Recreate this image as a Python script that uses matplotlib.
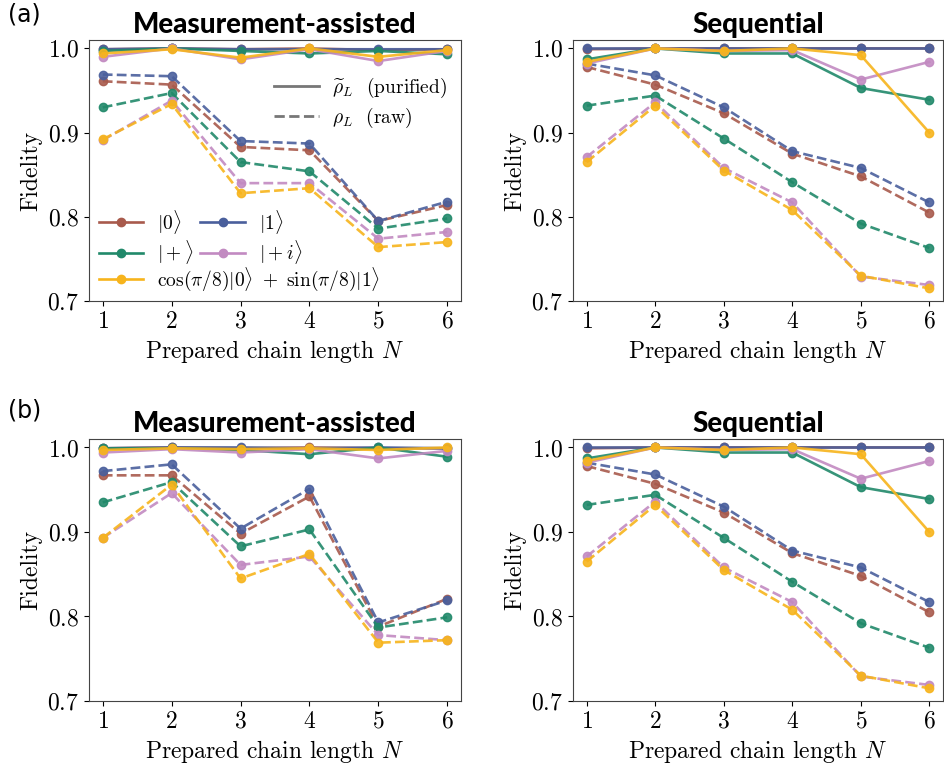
import numpy as np
import matplotlib.pyplot as plt
from matplotlib.lines import Line2D

plt.rcParams['font.family'] = 'serif'
plt.rcParams['font.serif'] = ['cmr10']
plt.rcParams['mathtext.fontset'] = 'cm'
plt.rcParams['axes.formatter.use_mathtext'] = True

N = [1, 2, 3, 4, 5, 6]
labels = [r'$|0\rangle$', r'$|1\rangle$', r'$|+\rangle$', r'$|+i\rangle$',
          r'$\cos(\pi/8)|0\rangle\ +\ \sin(\pi/8)|1\rangle$']
colors = ['#a85a4c', '#4a5f9c', '#21896a', '#c28ac1', '#f7b41c']

# order of rows: |0>, |1>, |+>, |+i>, cos
ma_a_pur = [
    [0.999, 1.000, 0.999, 1.000, 0.998, 0.999],
    [0.999, 1.000, 0.999, 0.999, 0.999, 0.999],
    [0.997, 1.000, 0.997, 0.994, 0.997, 0.993],
    [0.990, 1.000, 0.987, 0.999, 0.985, 0.997],
    [0.994, 0.999, 0.989, 1.000, 0.990, 0.998],
]
ma_a_raw = [
    [0.961, 0.957, 0.883, 0.879, 0.795, 0.814],
    [0.969, 0.967, 0.890, 0.887, 0.795, 0.818],
    [0.930, 0.947, 0.865, 0.854, 0.786, 0.798],
    [0.891, 0.938, 0.840, 0.840, 0.774, 0.782],
    [0.892, 0.934, 0.828, 0.834, 0.764, 0.770],
]
ma_b_pur = [
    [0.999, 1.000, 0.999, 1.000, 0.999, 0.999],
    [0.999, 1.000, 1.000, 0.999, 1.000, 0.999],
    [0.999, 0.999, 0.997, 0.992, 1.000, 0.989],
    [0.994, 0.998, 0.994, 0.998, 0.987, 0.996],
    [0.997, 0.999, 0.998, 0.999, 0.997, 1.000],
]
ma_b_raw = [
    [0.967, 0.967, 0.898, 0.942, 0.788, 0.821],
    [0.972, 0.980, 0.904, 0.951, 0.793, 0.819],
    [0.935, 0.959, 0.883, 0.903, 0.787, 0.799],
    [0.893, 0.946, 0.861, 0.871, 0.778, 0.772],
    [0.893, 0.956, 0.845, 0.874, 0.769, 0.772],
]
seq_pur = [
    [0.999, 1.000, 1.000, 1.000, 1.000, 1.000],
    [1.000, 1.000, 1.000, 1.000, 1.000, 1.000],
    [0.987, 1.000, 0.994, 0.994, 0.953, 0.939],
    [0.982, 1.000, 0.997, 0.998, 0.963, 0.984],
    [0.984, 1.000, 0.997, 1.000, 0.992, 0.900],
]
seq_raw = [
    [0.978, 0.957, 0.923, 0.875, 0.848, 0.805],
    [0.982, 0.968, 0.930, 0.878, 0.858, 0.817],
    [0.932, 0.944, 0.893, 0.841, 0.792, 0.763],
    [0.871, 0.936, 0.858, 0.817, 0.729, 0.719],
    [0.865, 0.932, 0.855, 0.808, 0.730, 0.715],
]

fig = plt.figure(figsize=(9.45, 7.7), dpi=100)
axA1 = fig.add_axes([89/945, 1-301/770, 372/945, 261/770])
axA2 = fig.add_axes([573/945, 1-301/770, 370/945, 261/770])
axB1 = fig.add_axes([89/945, 1-701/770, 372/945, 262/770])
axB2 = fig.add_axes([573/945, 1-701/770, 370/945, 262/770])

panels = [(axA1, ma_a_pur, ma_a_raw, 'Measurement-assisted'),
          (axA2, seq_pur, seq_raw, 'Sequential'),
          (axB1, ma_b_pur, ma_b_raw, 'Measurement-assisted'),
          (axB2, seq_pur, seq_raw, 'Sequential')]

for ax, pur, raw, title in panels:
    for i in range(len(labels)):
        ax.plot(N, pur[i], '-', color=colors[i], lw=1.9, marker='o', ms=6, alpha=0.9)
        ax.plot(N, raw[i], '--', color=colors[i], lw=1.9, marker='o', ms=6, alpha=0.9)
    ax.set_xlim(0.8, 6.2)
    ax.set_ylim(0.7, 1.01)
    ax.set_xticks(N)
    ax.set_yticks([0.7, 0.8, 0.9, 1.0])
    ax.tick_params(labelsize=17)
    ax.set_xlabel(r'Prepared chain length $N$', fontsize=17)
    ax.set_ylabel('Fidelity', fontsize=17)
    ax.set_title(title, fontsize=20, fontweight='black', family='Lato', pad=5)
    for s in ax.spines.values():
        s.set_color('#444444')

# legends
h = [Line2D([], [], color=colors[i], lw=1.9, marker='o', ms=6) for i in range(5)]
leg1 = axA1.legend([h[0], h[2], h[1], h[3]], [labels[0], labels[2], labels[1], labels[3]],
                   ncol=2, frameon=False, fontsize=14, loc='lower left',
                   bbox_to_anchor=(0.0, 0.095), handlelength=2.3, handletextpad=0.7,
                   columnspacing=0.35, labelspacing=0.15, borderpad=0.0)
axA1.add_artist(leg1)
leg2 = axA1.legend([h[4]], [labels[4]], frameon=False, fontsize=14, loc='lower left',
                   bbox_to_anchor=(0.0, -0.005), handlelength=2.3, handletextpad=0.7,
                   borderpad=0.0)
axA1.add_artist(leg2)
ls_h = [Line2D([], [], color='#777777', lw=2, ls='-'),
        Line2D([], [], color='#777777', lw=2, ls='--')]
axA1.legend(ls_h, [r'$\widetilde{\rho}_L$  (purified)', r'$\rho_L$  (raw)'],
            frameon=False, fontsize=14, loc='upper right', bbox_to_anchor=(1.01, 0.93),
            handlelength=2.3, handletextpad=0.7, labelspacing=0.3)

fig.text(0.008, 0.997, '(a)', fontsize=17, family='DejaVu Sans', va='top')
fig.text(0.008, 0.483, '(b)', fontsize=17, family='DejaVu Sans', va='top')

fig.savefig('out.png', dpi=100)
